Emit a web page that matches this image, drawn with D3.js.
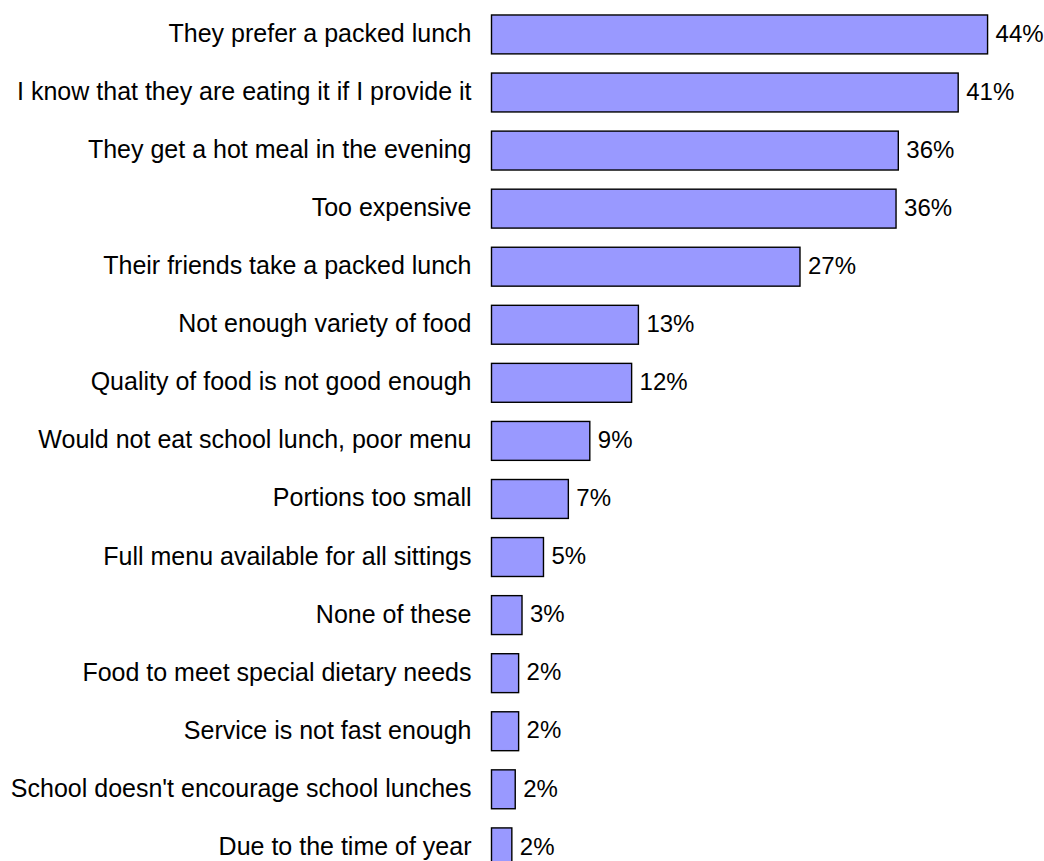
<!DOCTYPE html>
<html>
<head>
<meta charset="utf-8">
<script src="https://cdn.jsdelivr.net/npm/d3@7"></script>
<style>
  body { margin: 0; background: #fff; }
  svg { display: block; }
</style>
</head>
<body>
<div id="chart"></div>
<script>
// reasons given, top to bottom
const reasons = [
  "They prefer a packed lunch",
  "I know that they are eating it if I provide it",
  "They get a hot meal in the evening",
  "Too expensive",
  "Their friends take a packed lunch",
  "Not enough variety of food",
  "Quality of food is not good enough",
  "Would not eat school lunch, poor menu",
  "Portions too small",
  "Full menu available for all sittings",
  "None of these",
  "Food to meet special dietary needs",
  "Service is not fast enough",
  "School doesn't encourage school lunches",
  "Due to the time of year"
]
// share of respondents
const shares = [0.439, 0.413, 0.360, 0.358, 0.273, 0.130, 0.124, 0.087, 0.068, 0.046, 0.027, 0.024, 0.024, 0.021, 0.018]

const width = 1044, height = 861
const barLeft = 491.5

const svg = d3.select("#chart").append("svg")
    .attr("width", width)
    .attr("height", height)

const x = d3.scaleLinear()
    .domain([0, 0.5])
    .range([barLeft, barLeft + 565])

const y = d3.scaleBand()
    .domain(reasons)
    .range([5.4, 876.4])
    .paddingInner(0.33)
    .paddingOuter(0.165)

const pct = d3.format(".0%")
const data = reasons.map((r, i) => ({reason: r, share: shares[i]}))

const rows = svg.selectAll("g.row")
    .data(data)
  .enter().append("g")
    .attr("class", "row")

rows.append("rect")
    .attr("x", x(0))
    .attr("y", d => y(d.reason))
    .attr("width", d => x(d.share) - x(0))
    .attr("height", y.bandwidth())
    .attr("fill", "#9999ff")
    .attr("stroke", "#000")
    .attr("stroke-width", 1.4)

rows.append("text")
    .attr("x", barLeft - 20)
    .attr("y", d => y(d.reason) + y.bandwidth() / 2)
    .attr("dy", "0.3em")
    .attr("text-anchor", "end")
    .style("font-family", "'Liberation Sans', Arial, sans-serif")
    .style("font-size", "25px")
    .style("fill", "#000")
    .text(d => d.reason)

rows.append("text")
    .attr("x", d => x(d.share) + 8)
    .attr("y", d => y(d.reason) + y.bandwidth() / 2)
    .attr("dy", "0.3em")
    .style("font-family", "'Liberation Sans', Arial, sans-serif")
    .style("font-size", "24px")
    .style("fill", "#000")
    .text(d => pct(d.share))
</script>
</body>
</html>
